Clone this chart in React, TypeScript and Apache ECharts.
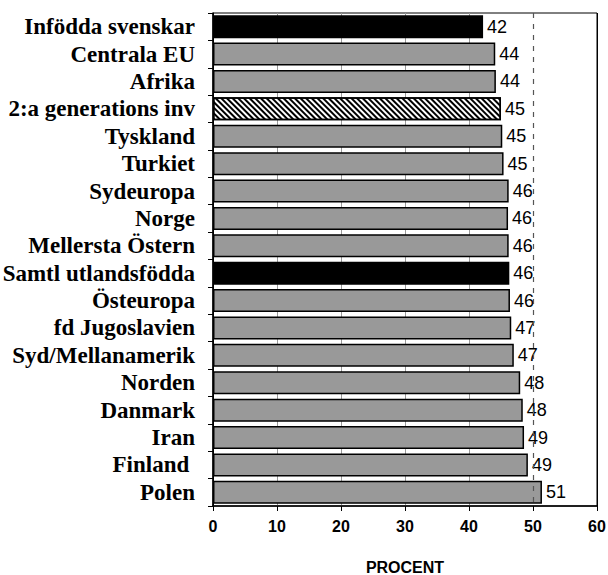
import React, { useEffect, useRef } from "react";
import * as echarts from "echarts";

const categories = [
  "Infödda svenskar",
  "Centrala EU",
  "Afrika",
  "2:a generations inv",
  "Tyskland",
  "Turkiet",
  "Sydeuropa",
  "Norge",
  "Mellersta Östern",
  "Samtl utlandsfödda",
  "Östeuropa",
  "fd Jugoslavien",
  "Syd/Mellanamerik",
  "Norden",
  "Danmark",
  "Iran",
  "Finland ",
  "Polen",
];
const values = [42.2, 44.1, 44.2, 45.0, 45.2, 45.4, 46.2, 46.1, 46.2, 46.3, 46.4, 46.6, 47.0, 48.0, 48.4, 48.6, 49.2, 51.4];
const barKinds = ["black", "grey", "grey", "hatch", "grey", "grey", "grey", "grey", "grey", "black", "grey", "grey", "grey", "grey", "grey", "grey", "grey", "grey"];
const xTicks = [0, 10, 20, 30, 40, 50, 60];
const referenceLine = 50;

export default function App() {
  const ref = useRef<HTMLDivElement>(null);
  useEffect(() => {
    if (!ref.current) return;
    const chart = echarts.init(ref.current, undefined, { renderer: "svg" });
    const data = values.map((v, i) => {
      const kind = barKinds[i];
      if (kind === "black") return { value: v, itemStyle: { color: "#000000" } };
      if (kind === "hatch")
        return {
          value: v,
          itemStyle: {
            color: "#ffffff",
            decal: {
              symbol: "rect",
              symbolSize: 1,
              color: "#000000",
              backgroundColor: "#ffffff",
              dashArrayX: [1, 0],
              dashArrayY: [1.5, 2],
              rotation: Math.PI / 4,
            },
          },
        };
      return { value: v };
    });
    chart.setOption({
      animation: false,
      backgroundColor: "#ffffff",
      grid: {
        left: 213,
        right: 11,
        top: 13,
        bottom: 69,
        outerBoundsMode: "none",
        containLabel: false,
        show: true,
        borderColor: "#000",
        borderWidth: 1,
        backgroundColor: "transparent",
      },
      xAxis: {
        type: "value",
        min: xTicks[0],
        max: xTicks[xTicks.length - 1],
        interval: 10,
        name: "PROCENT",
        nameLocation: "middle",
        nameGap: 53,
        nameTextStyle: { fontFamily: "Liberation Sans", fontWeight: "bold", fontSize: 16, color: "#000" },
        axisLine: { show: true, lineStyle: { color: "#000", width: 1.5 } },
        axisTick: { show: true, length: 5, lineStyle: { color: "#000" } },
        axisLabel: { fontFamily: "Liberation Sans", fontWeight: "bold", fontSize: 16, color: "#000", margin: 12 },
        splitLine: {
          show: true,
          lineStyle: {
            color: ["#000", "#999", "#999", "#999", "#999", "rgba(0,0,0,0)", "#000"],
            width: 1,
          },
        },
      },
      yAxis: {
        type: "category",
        data: categories,
        inverse: true,
        axisLine: { show: true, lineStyle: { color: "#000", width: 1.5 } },
        axisTick: { show: true, length: 5, lineStyle: { color: "#000" } },
        axisLabel: { interval: 0, fontFamily: "Liberation Serif", fontWeight: "bold", fontSize: 23, color: "#000", margin: 18 },
      },
      series: [
        {
          type: "line",
          data: [],
          z: 1,
          markLine: {
            silent: true,
            symbol: "none",
            label: { show: false },
            lineStyle: { color: "#555", type: [5, 6], width: 1.2 },
            data: [{ xAxis: referenceLine }],
          },
        },
        {
          type: "bar",
          data,
          z: 2,
          barCategoryGap: "16%",
          itemStyle: { color: "#999999", borderColor: "#000", borderWidth: 1.5 },
          label: {
            show: true,
            position: "right",
            distance: 4,
            fontFamily: "Liberation Sans",
            fontSize: 18,
            color: "#000",
            formatter: (p: any) => String(Math.round(p.value)),
          },
        },
      ],
    });
    return () => chart.dispose();
  }, []);
  return <div ref={ref} style={{ position: "fixed", left: 0, top: 0, width: 608, height: 575 }} />;
}
